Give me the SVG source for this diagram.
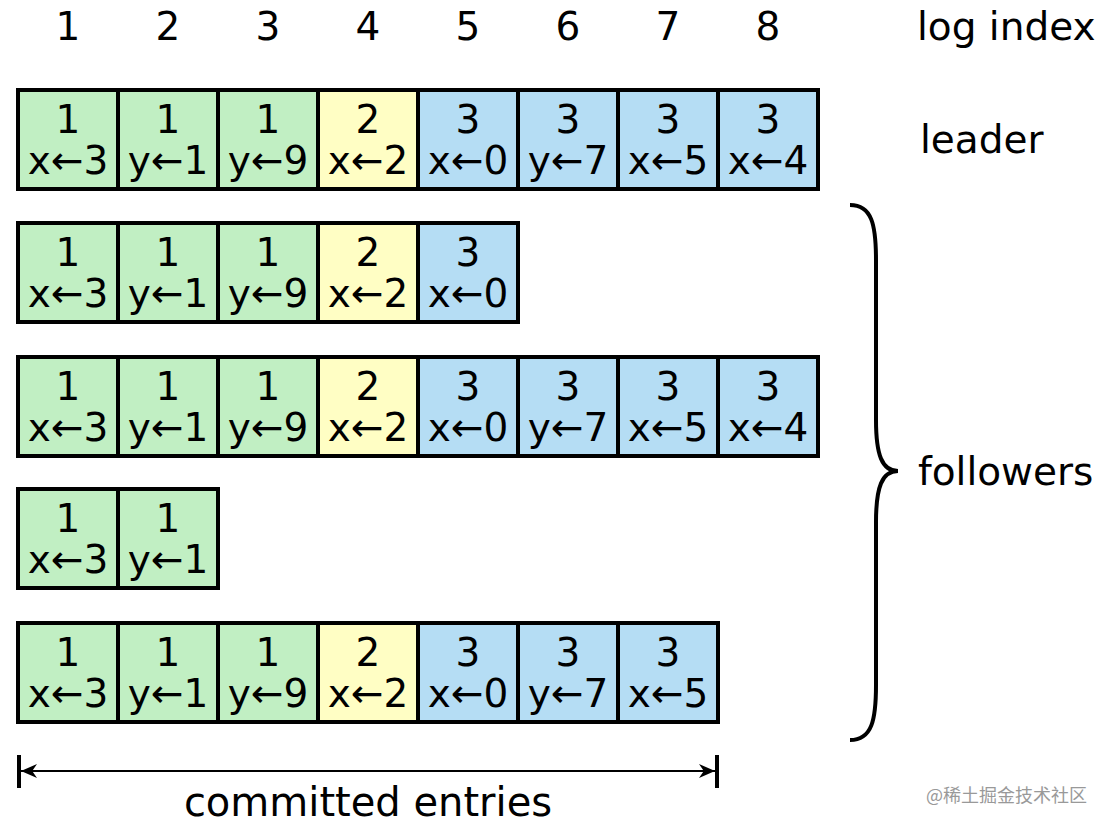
<svg xmlns="http://www.w3.org/2000/svg" width="1111" height="829" viewBox="0 0 1111 829">
<defs>
<style>
text{font-family:"DejaVu Sans",sans-serif;font-size:39px;fill:#000}
.c{text-anchor:middle}
.cell{stroke:#000;stroke-width:4}
.g{fill:#c1efc3}
.y{fill:#fffec4}
.b{fill:#b5ddf4}
.wm{font-family:"Noto Sans CJK SC",sans-serif;font-size:18px;fill:#999}
</style>
<marker id="ah" viewBox="0 0 10 10" refX="10" refY="5" markerWidth="16" markerHeight="14" orient="auto-start-reverse" markerUnits="userSpaceOnUse" preserveAspectRatio="none">
<path d="M0,0 L10,5 L0,10 L3,5 Z" fill="#000"/>
</marker>
</defs>
<rect width="1111" height="829" fill="#fff"/>
<g id="header">
<text class="c" x="68" y="40">1</text>
<text class="c" x="168" y="40">2</text>
<text class="c" x="268" y="40">3</text>
<text class="c" x="368" y="40">4</text>
<text class="c" x="468" y="40">5</text>
<text class="c" x="568" y="40">6</text>
<text class="c" x="668" y="40">7</text>
<text class="c" x="768" y="40">8</text>
<text x="917" y="40">log index</text>
</g>
<g id="leader">
<rect class="cell g" x="18" y="90" width="100" height="99"/><rect class="cell g" x="118" y="90" width="100" height="99"/><rect class="cell g" x="218" y="90" width="100" height="99"/><rect class="cell y" x="318" y="90" width="100" height="99"/><rect class="cell b" x="418" y="90" width="100" height="99"/><rect class="cell b" x="518" y="90" width="100" height="99"/><rect class="cell b" x="618" y="90" width="100" height="99"/><rect class="cell b" x="718" y="90" width="100" height="99"/>
<text class="c" x="68" y="133">1</text><text class="c" x="68" y="174">x←3</text>
<text class="c" x="168" y="133">1</text><text class="c" x="168" y="174">y←1</text>
<text class="c" x="268" y="133">1</text><text class="c" x="268" y="174">y←9</text>
<text class="c" x="368" y="133">2</text><text class="c" x="368" y="174">x←2</text>
<text class="c" x="468" y="133">3</text><text class="c" x="468" y="174">x←0</text>
<text class="c" x="568" y="133">3</text><text class="c" x="568" y="174">y←7</text>
<text class="c" x="668" y="133">3</text><text class="c" x="668" y="174">x←5</text>
<text class="c" x="768" y="133">3</text><text class="c" x="768" y="174">x←4</text>
<text x="920" y="153">leader</text>
</g>
<g id="follower1">
<rect class="cell g" x="18" y="223" width="100" height="99"/><rect class="cell g" x="118" y="223" width="100" height="99"/><rect class="cell g" x="218" y="223" width="100" height="99"/><rect class="cell y" x="318" y="223" width="100" height="99"/><rect class="cell b" x="418" y="223" width="100" height="99"/>
<text class="c" x="68" y="266">1</text><text class="c" x="68" y="307">x←3</text>
<text class="c" x="168" y="266">1</text><text class="c" x="168" y="307">y←1</text>
<text class="c" x="268" y="266">1</text><text class="c" x="268" y="307">y←9</text>
<text class="c" x="368" y="266">2</text><text class="c" x="368" y="307">x←2</text>
<text class="c" x="468" y="266">3</text><text class="c" x="468" y="307">x←0</text>
</g>
<g id="follower2">
<rect class="cell g" x="18" y="357" width="100" height="99"/><rect class="cell g" x="118" y="357" width="100" height="99"/><rect class="cell g" x="218" y="357" width="100" height="99"/><rect class="cell y" x="318" y="357" width="100" height="99"/><rect class="cell b" x="418" y="357" width="100" height="99"/><rect class="cell b" x="518" y="357" width="100" height="99"/><rect class="cell b" x="618" y="357" width="100" height="99"/><rect class="cell b" x="718" y="357" width="100" height="99"/>
<text class="c" x="68" y="400">1</text><text class="c" x="68" y="441">x←3</text>
<text class="c" x="168" y="400">1</text><text class="c" x="168" y="441">y←1</text>
<text class="c" x="268" y="400">1</text><text class="c" x="268" y="441">y←9</text>
<text class="c" x="368" y="400">2</text><text class="c" x="368" y="441">x←2</text>
<text class="c" x="468" y="400">3</text><text class="c" x="468" y="441">x←0</text>
<text class="c" x="568" y="400">3</text><text class="c" x="568" y="441">y←7</text>
<text class="c" x="668" y="400">3</text><text class="c" x="668" y="441">x←5</text>
<text class="c" x="768" y="400">3</text><text class="c" x="768" y="441">x←4</text>
</g>
<g id="follower3">
<rect class="cell g" x="18" y="489" width="100" height="99"/><rect class="cell g" x="118" y="489" width="100" height="99"/>
<text class="c" x="68" y="532">1</text><text class="c" x="68" y="573">x←3</text>
<text class="c" x="168" y="532">1</text><text class="c" x="168" y="573">y←1</text>
</g>
<g id="follower4">
<rect class="cell g" x="18" y="623" width="100" height="99"/><rect class="cell g" x="118" y="623" width="100" height="99"/><rect class="cell g" x="218" y="623" width="100" height="99"/><rect class="cell y" x="318" y="623" width="100" height="99"/><rect class="cell b" x="418" y="623" width="100" height="99"/><rect class="cell b" x="518" y="623" width="100" height="99"/><rect class="cell b" x="618" y="623" width="100" height="99"/>
<text class="c" x="68" y="666">1</text><text class="c" x="68" y="707">x←3</text>
<text class="c" x="168" y="666">1</text><text class="c" x="168" y="707">y←1</text>
<text class="c" x="268" y="666">1</text><text class="c" x="268" y="707">y←9</text>
<text class="c" x="368" y="666">2</text><text class="c" x="368" y="707">x←2</text>
<text class="c" x="468" y="666">3</text><text class="c" x="468" y="707">x←0</text>
<text class="c" x="568" y="666">3</text><text class="c" x="568" y="707">y←7</text>
<text class="c" x="668" y="666">3</text><text class="c" x="668" y="707">x←5</text>
</g>
<g id="followers-label">
<path d="M850,205 C872,205 876,225 876,260 L876,420 C876,455 882,471 898,471 C882,471 876,487 876,522 L876,685 C876,720 872,740 850,740" fill="none" stroke="#000" stroke-width="4"/>
<text x="918" y="485">followers</text>
</g>
<g id="connectors">
<line x1="19" y1="755" x2="19" y2="788" stroke="#000" stroke-width="4"/>
<line x1="717" y1="755" x2="717" y2="788" stroke="#000" stroke-width="4"/>
<line x1="21" y1="771" x2="715" y2="771" stroke="#000" stroke-width="2" marker-start="url(#ah)" marker-end="url(#ah)"/>
</g>
<text class="c" x="368" y="816" style="font-size:40px">committed entries</text>
<text class="wm" x="926" y="802">@稀土掘金技术社区</text>
</svg>
